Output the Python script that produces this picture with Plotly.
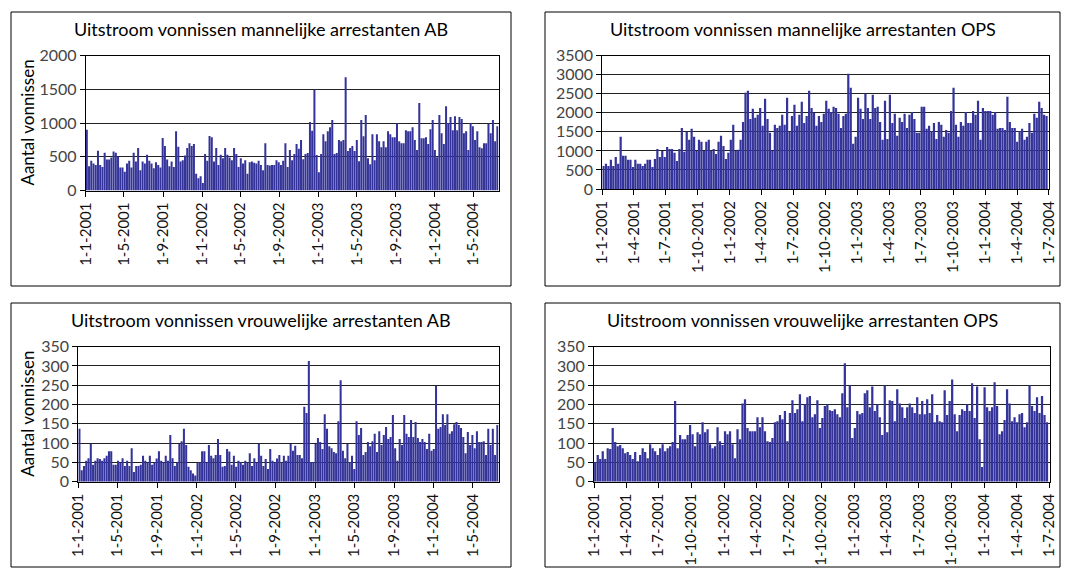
import plotly.graph_objects as go
import pandas as pd

# ---------------- data (weekly counts) ----------------
male_ab = [
    900, 360, 440, 400, 380, 590, 380, 350, 560, 460,
    460, 490, 580, 560, 500, 340, 340, 280, 400, 440,
    340, 560, 430, 630, 300, 430, 400, 530, 440, 400,
    330, 420, 380, 340, 780, 660, 460, 360, 430, 350,
    880, 650, 430, 450, 520, 630, 700, 660, 690, 250,
    180, 210, 110, 540, 440, 810, 790, 430, 630, 380,
    530, 480, 630, 530, 490, 450, 630, 540, 350, 480,
    400, 450, 250, 420, 430, 410, 400, 440, 380, 300,
    700, 380, 370, 380, 380, 450, 420, 380, 440, 700,
    350, 600, 450, 540, 690, 620,
    750, 465, 540, 555, 1015, 885, 1500, 525, 270, 540,
    835, 730, 880, 940, 1045, 540, 555, 750, 730, 750,
    1680, 585, 630, 660, 585, 750, 435, 1045, 805, 1120,
    480, 390, 835, 450, 835, 730, 640, 730, 640, 880,
    835, 790, 790, 1000, 730, 700, 700, 895, 880, 880,
    940, 750, 600, 1300, 775, 775, 790, 690, 910, 1045,
    600, 495, 1120, 850, 690, 1250, 1000, 1090, 895, 1100,
    895, 1090, 1060, 850, 880, 600, 1000, 955, 750, 880,
    640, 625, 700, 700, 990, 850, 1045, 730, 955,
]

male_ops = [
    605, 660, 605, 765, 605, 840, 660, 1370, 870, 870,
    765, 765, 580, 765, 660, 660, 605, 660, 765, 765,
    580, 790, 1050, 840, 1000, 840, 1105, 1050, 1050, 950,
    735, 1050, 1600, 975, 1500, 1290, 1580, 1370, 1000, 1290,
    1240, 1000, 1240, 1290, 1000, 1050, 920, 1240, 1395, 1130,
    790, 950, 1290, 1685, 1000, 1030, 1290, 1760, 2525, 2580,
    1840, 2105, 1870, 1950, 2130, 1660, 2370, 1840, 1475, 1000,
    1685, 1600, 1660, 1950, 1685, 2395, 1500, 1920, 2210, 1660,
    1950, 2290, 1735, 1920,
    2580, 2130, 2000, 1660, 1920, 1760, 1975, 2315, 2105, 2025,
    2160, 2130, 1975, 1600, 1920, 1975, 3025, 2660, 1185, 1370,
    2395, 2105, 1840, 2500, 2130, 1840, 2475, 2130, 2160, 1760,
    1290, 2315, 1315, 2475, 1735, 1975, 1395, 1870, 1760, 1975,
    1600, 1950, 2025, 1840, 1475, 1475, 2160, 2160, 1580, 1660,
    1525, 1735, 1315, 1760, 1685, 1370, 1550, 1475, 2050, 2660,
    1685, 1370, 1760, 1660, 2025, 1735, 1735, 2050, 1950, 2315,
    1290, 2130, 2050, 2050, 2050, 1950, 2025, 1580, 1600, 1600,
    1550, 2420, 1760, 1600, 1600, 1240, 1525, 1580, 1290, 1370,
    1735, 1475, 1975, 1870, 2290, 2130, 1950, 1920,
]

female_ab = [
    137, 30, 41, 54, 61, 98, 44, 54, 61, 59,
    54, 61, 67, 79, 79, 44, 44, 54, 50, 61,
    41, 54, 41, 87, 25, 41, 41, 44, 67, 54,
    50, 67, 44, 50, 60, 79, 54, 50, 67, 54, 121,
    61, 41, 50, 98, 105, 137, 95, 39, 30, 21,
    16, 50, 50, 79, 79, 50, 95, 67, 61, 69,
    111, 69, 39, 41, 85, 78, 44, 67, 39, 54,
    50, 44, 54, 50, 74, 41, 61, 50, 98, 67,
    41, 59, 33, 85, 54, 50, 60, 69, 50, 67, 54,
    67, 98, 80, 93, 69,
    69, 61, 194, 178, 313, 51, 51, 98, 113, 103,
    85, 175, 137, 92, 87, 77, 74, 157, 263, 80,
    61, 98, 51, 67, 33, 157, 121, 139, 69, 77,
    103, 92, 105, 124, 77, 131, 95, 121, 142, 111,
    116, 173, 87, 54, 111, 95, 173, 124, 116, 160,
    116, 155, 113, 103, 111, 103, 85, 124, 80, 85,
    248, 137, 142, 175, 147, 175, 124, 131, 149, 155,
    147, 139, 116, 74, 129, 95, 121, 87, 131, 103,
    103, 105, 69, 137, 95, 137, 69, 147,
]

female_ops = [
    51, 69, 59, 79, 59, 87, 85, 139, 103, 92,
    95, 87, 74, 77, 69, 59, 77, 53, 69, 87,
    77, 61, 97, 87, 79, 69, 87, 97, 79, 87,
    92, 103, 209, 87, 121, 110, 110, 121, 147, 123,
    92, 128, 123, 154, 128, 136, 97, 87, 92, 141,
    105, 95, 131, 123, 131, 97, 61, 136, 110, 203,
    214, 139, 131, 131, 131, 167, 141, 167, 131, 105,
    103, 113, 154, 157, 173, 162, 183, 105, 178, 211,
    178, 188, 227, 157, 201, 219, 222,
    167, 175, 211, 139, 165, 196, 201, 185, 183, 188,
    175, 167, 229, 307, 193, 250, 113, 139, 183, 175,
    178, 229, 237, 193, 247, 183, 201, 167, 121, 250,
    128, 211, 209, 157, 240, 203, 193, 165, 193,
    203, 193, 178, 219, 175, 209, 175, 214, 178, 227,
    154, 173, 157, 154, 237, 173, 209, 265, 175, 131,
    173, 188, 183, 201, 183, 255, 165, 247, 110, 38,
    245, 193, 183, 193, 258, 196, 123, 131, 160,
    240, 203, 157, 167, 154, 175, 178, 141, 154, 250,
    196, 183, 219, 178, 222, 173, 154,
]

ab_tick_labels = ["1-1-2001", "1-5-2001", "1-9-2001", "1-1-2002", "1-5-2002",
                  "1-9-2002", "1-1-2003", "1-5-2003", "1-9-2003", "1-1-2004",
                  "1-5-2004"]
ops_tick_labels = ["1-1-2001", "1-4-2001", "1-7-2001", "1-10-2001", "1-1-2002",
                   "1-4-2002", "1-7-2002", "1-10-2002", "1-1-2003", "1-4-2003",
                   "1-7-2003", "1-10-2003", "1-1-2004", "1-4-2004", "1-7-2004"]

titles = ["Uitstroom vonnissen mannelijke arrestanten AB",
          "Uitstroom vonnissen mannelijke arrestanten OPS",
          "Uitstroom vonnissen vrouwelijke arrestanten AB",
          "Uitstroom vonnissen vrouwelijke arrestanten OPS"]
y_title = "Aantal vonnissen"
start_date = "2001-01-01"

# ---------------- layout geometry (pixels) ----------------
W, H = 1068, 571
FONT = "Lato, 'Open Sans', sans-serif"
BAR = "#333399"

panels = [
    dict(vals=male_ab, ticks=ab_tick_labels, title=titles[0], ymax=2000, dt=500,
         px=(85.7, 498.5), py=(55.7, 190.5), box=(11, 12, 511, 286), ytitle=True),
    dict(vals=male_ops, ticks=ops_tick_labels, title=titles[1], ymax=3500, dt=500,
         px=(602.3, 1049.0), py=(55.7, 189.0), box=(545, 12, 1060, 286), ytitle=False),
    dict(vals=female_ab, ticks=ab_tick_labels, title=titles[2], ymax=350, dt=50,
         px=(78.3, 498.5), py=(346.7, 481.7), box=(11, 303, 511, 567), ytitle=True),
    dict(vals=female_ops, ticks=ops_tick_labels, title=titles[3], ymax=350, dt=50,
         px=(594.0, 1049.5), py=(346.7, 481.7), box=(545, 303, 1060, 567), ytitle=False),
]

fig = go.Figure()
shapes, annotations = [], []
start = pd.Timestamp(start_date)

for i, p in enumerate(panels, start=1):
    n = len(p["vals"])
    x = pd.date_range(start, periods=n, freq="7D") + pd.Timedelta(hours=84)
    xa = "x" if i == 1 else f"x{i}"
    ya = "y" if i == 1 else f"y{i}"
    fig.add_trace(go.Bar(x=x, y=p["vals"], marker=dict(color=BAR, line=dict(width=0)),
                         xaxis=xa, yaxis=ya, showlegend=False))
    tickvals = [pd.to_datetime(t, format="%d-%m-%Y") for t in p["ticks"]]
    end = max(start + pd.Timedelta(days=7 * n), tickvals[-1] + pd.Timedelta(hours=12))
    xdom = [p["px"][0] / W, p["px"][1] / W]
    ydom = [1 - p["py"][1] / H, 1 - p["py"][0] / H]
    key = "" if i == 1 else str(i)
    fig.update_layout(**{
        f"xaxis{key}": dict(
            domain=xdom, anchor=ya, type="date", range=[start, end],
            tickvals=tickvals, ticktext=p["ticks"], tickangle=-90,
            ticks="outside", ticklen=5, tickcolor="#000", tickwidth=1,
            showline=True, linecolor="#000", linewidth=1, mirror=True,
            showgrid=False, zeroline=False, automargin=False,
            tickfont=dict(family=FONT, size=15, color="#111"),
        ),
        f"yaxis{key}": dict(
            domain=ydom, anchor=xa, range=[0, p["ymax"]], dtick=p["dt"],
            tick0=0, ticks="outside", ticklen=5, tickcolor="#000",
            showline=True, linecolor="#000", linewidth=1, mirror=True,
            showgrid=True, gridcolor="#222", gridwidth=1, zeroline=False,
            automargin=False,
            tickfont=dict(family=FONT, size=16, color="#444"),
        ),
    })
    x0, y0, x1, y1 = p["box"]
    shapes.append(dict(type="rect", xref="paper", yref="paper",
                       x0=x0 / W, x1=x1 / W, y0=1 - y1 / H, y1=1 - y0 / H,
                       line=dict(color="#000", width=1), layer="below"))
    annotations.append(dict(text=p["title"], xref="paper", yref="paper",
                            x=(x0 + x1) / 2 / W, y=1 - (y0 + 16.5) / H,
                            xanchor="center", yanchor="middle", showarrow=False,
                            font=dict(family=FONT, size=18, color="#000")))
    if p["ytitle"]:
        annotations.append(dict(text=y_title, xref="paper", yref="paper",
                                x=27.5 / W, y=1 - (p["py"][0] + p["py"][1]) / 2 / H,
                                xanchor="center", yanchor="middle", textangle=-90,
                                showarrow=False,
                                font=dict(family=FONT, size=17, color="#000")))

fig.update_layout(
    template="none",
    width=W, height=H, autosize=False,
    margin=dict(l=0, r=0, t=0, b=0, pad=0),
    paper_bgcolor="white", plot_bgcolor="white",
    bargap=0.1, shapes=shapes, annotations=annotations,
)

fig.write_html(
    "out.html",
    config={"displayModeBar": False},
    post_script="document.body.style.margin='0';document.body.style.overflow='hidden';",
)
